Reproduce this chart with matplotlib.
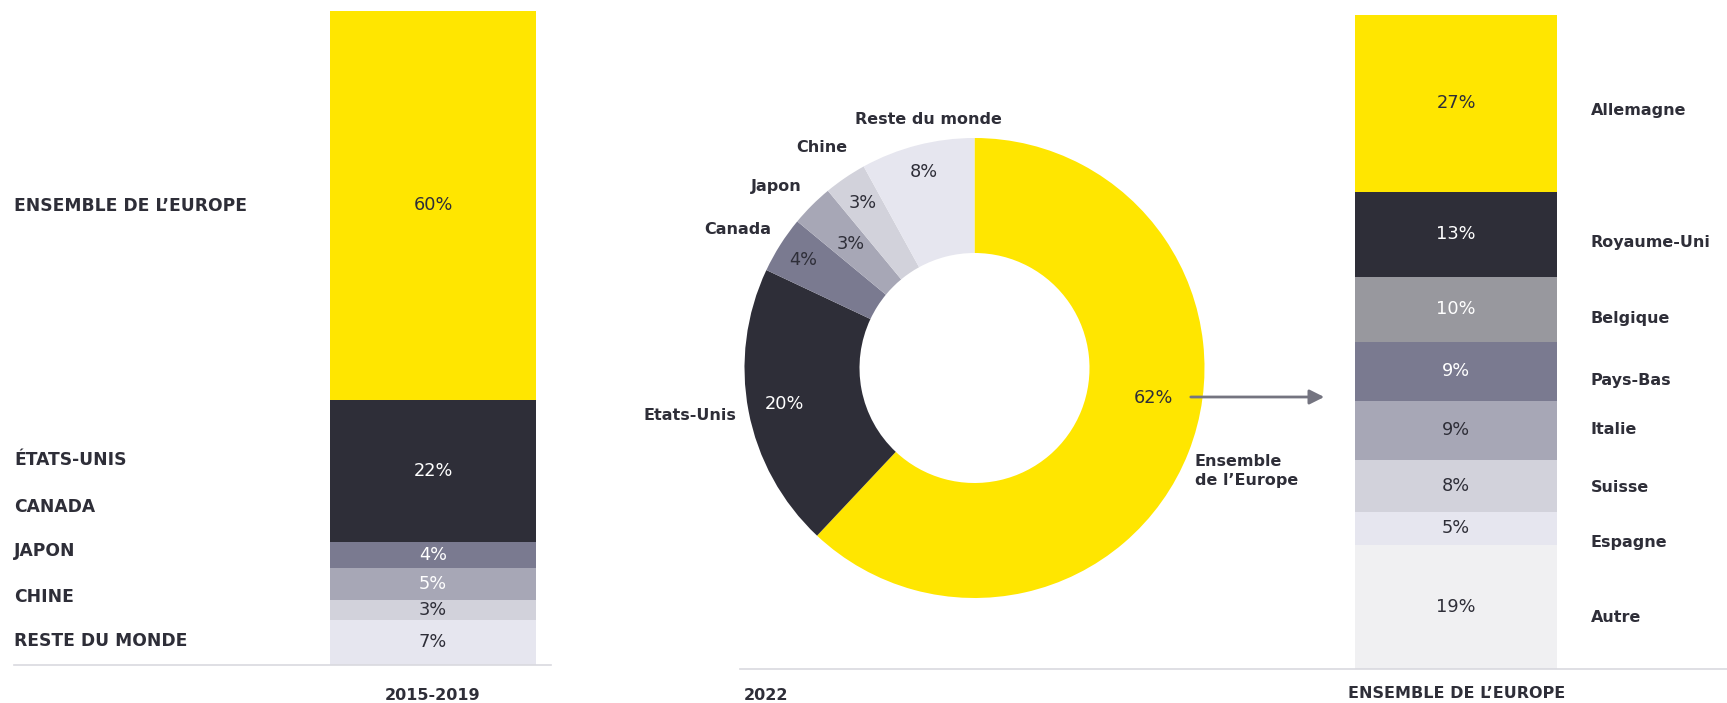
"""Répartition géographique : barre 2015-2019, anneau 2022, détail Europe."""

import numpy as np
import matplotlib

matplotlib.use("Agg")
import matplotlib.pyplot as plt
from matplotlib.lines import Line2D
from matplotlib.patches import FancyArrowPatch

# --- data ---------------------------------------------------------------
left_categories = ["ENSEMBLE DE L’EUROPE", "ÉTATS-UNIS", "CANADA", "JAPON", "CHINE", "RESTE DU MONDE"]
left_values = [60, 22, 4, 5, 3, 7]
left_period = "2015-2019"

donut_categories = ["Ensemble\nde l’Europe", "Etats-Unis", "Canada", "Japon", "Chine", "Reste du monde"]
donut_values = [62, 20, 4, 3, 3, 8]
donut_period = "2022"

europe_categories = ["Allemagne", "Royaume-Uni", "Belgique", "Pays-Bas", "Italie", "Suisse", "Espagne", "Autre"]
europe_values = [27, 13, 10, 9, 9, 8, 5, 19]
europe_title = "ENSEMBLE DE L’EUROPE"

# --- style --------------------------------------------------------------
YELLOW = "#FFE600"
DARK = "#2E2E38"
left_colors = [YELLOW, DARK, "#7A7A90", "#A7A7B6", "#D2D2DB", "#E6E6EF"]
left_text = [DARK, "white", "white", "white", DARK, DARK]
donut_colors = [YELLOW, DARK, "#7A7A90", "#A7A7B6", "#D2D2DB", "#E6E6EF"]
donut_text = [DARK, "white", DARK, DARK, DARK, DARK]
europe_colors = [YELLOW, DARK, "#98989E", "#7A7A90", "#A7A7B6", "#D2D2DB", "#E6E6EF", "#F0F0F2"]
europe_text = [DARK, "white", "white", "white", DARK, DARK, DARK, DARK]

W, H = 1727, 703
PCT_SIZE = 12.8
LABEL_SIZE = 11.5
CAPS_SIZE = 12.3

fig = plt.figure(figsize=(W / 100, H / 100), dpi=100)


def px_axes(left, top, right, bottom):
    ax = fig.add_axes([left / W, 1 - bottom / H, (right - left) / W, (bottom - top) / H])
    ax.set_axis_off()
    return ax


def px_text(x, y, s, **kw):
    kw.setdefault("color", DARK)
    kw.setdefault("va", "center")
    return fig.text(x / W, 1 - y / H, s, **kw)


def stacked_bar(ax, values, colors, text_colors):
    values = np.asarray(values, dtype=float)
    bottoms = np.concatenate([[0], np.cumsum(values)[:-1]])
    ax.bar(np.zeros(len(values)), values, bottom=bottoms, width=1.0, color=colors, linewidth=0)
    ax.set_xlim(-0.5, 0.5)
    ax.set_ylim(values.sum(), 0)
    for v, b, c in zip(values, bottoms, text_colors):
        ax.text(0, b + v / 2, f"{v:.0f}%", ha="center", va="center", color=c, fontsize=PCT_SIZE)


# left bar: 2015-2019
ax_left = px_axes(330, 11, 536, 665)
stacked_bar(ax_left, left_values, left_colors, left_text)
for label, y in zip(left_categories, [206, 460, 507, 551, 597, 641]):
    px_text(14, y, label, fontsize=CAPS_SIZE, fontweight="bold")
px_text(433, 695, left_period, ha="center", fontsize=LABEL_SIZE, fontweight="bold")

# donut: 2022
cx, cy, r_px = 974.5, 368, 230
ax_donut = px_axes(cx - 300, cy - 300, cx + 300, cy + 300)
ax_donut.pie(donut_values, colors=donut_colors, radius=1, startangle=90, counterclock=False,
             wedgeprops=dict(width=0.5, linewidth=0))
lim = 300 / r_px
ax_donut.set_xlim(-lim, lim)
ax_donut.set_ylim(-lim, lim)

fractions = np.asarray(donut_values) / sum(donut_values)
ends = 90 - 360 * np.cumsum(fractions)
mids = ends + 180 * fractions
mids[0] = -9.5  # Europe label sits where the arrow leaves the ring
pct_radius = [0.79, 0.84, 0.88, 0.76, 0.865, 0.88]
for v, ang, rad, c in zip(donut_values, mids, pct_radius, donut_text):
    a = np.deg2rad(ang)
    ax_donut.text(rad * np.cos(a), rad * np.sin(a), f"{v}%", ha="center", va="center",
                  color=c, fontsize=PCT_SIZE)

outer_pos = [(1195, 471, "left"), (736, 416, "right"), (738, 229, "center"),
             (776, 187, "center"), (822, 148, "center"), (928, 119, "center")]
for label, (x, y, ha) in zip(donut_categories, outer_pos):
    px_text(x, y, label, ha=ha, fontsize=LABEL_SIZE, fontweight="bold", linespacing=1.3)
px_text(744, 695, donut_period, ha="left", fontsize=LABEL_SIZE, fontweight="bold")

fig.add_artist(FancyArrowPatch((1188 / W, 1 - 397 / H), (1327 / W, 1 - 397 / H),
                               transform=fig.transFigure, arrowstyle="-|>",
                               mutation_scale=22, color="#747480", lw=2))

# right bar: Europe detail
ax_eu = px_axes(1355, 15, 1557, 669)
stacked_bar(ax_eu, europe_values, europe_colors, europe_text)
for label, y in zip(europe_categories, [111, 242, 318, 381, 430, 488, 542, 617]):
    px_text(1591, y, label, fontsize=LABEL_SIZE, fontweight="bold")
px_text(1457, 694, europe_title, ha="center", fontsize=LABEL_SIZE, fontweight="bold")

# baselines
for x0, x1, y in [(14, 551, 665), (740, 1727, 669)]:
    fig.add_artist(Line2D([x0 / W, x1 / W], [1 - y / H, 1 - y / H], transform=fig.transFigure,
                          color="#D9D9DF", lw=1.2))

fig.savefig("out.png", dpi=100)
